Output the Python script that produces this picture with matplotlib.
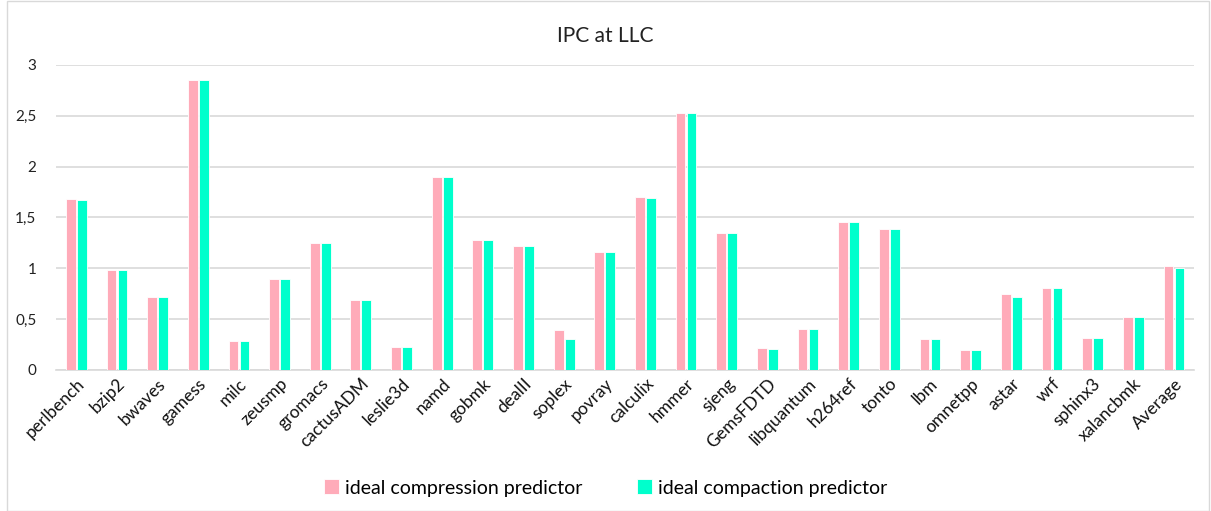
import numpy as np
import matplotlib.pyplot as plt
from matplotlib.patches import Rectangle

plt.rcParams['font.family'] = ['Lato', 'DejaVu Sans']

benchmarks = ['perlbench', 'bzip2', 'bwaves', 'gamess', 'milc', 'zeusmp', 'gromacs',
              'cactusADM', 'leslie3d', 'namd', 'gobmk', 'dealII', 'soplex', 'povray',
              'calculix', 'hmmer', 'sjeng', 'GemsFDTD', 'libquantum', 'h264ref', 'tonto',
              'lbm', 'omnetpp', 'astar', 'wrf', 'sphinx3', 'xalancbmk', 'Average']
compression = [1.68, 0.98, 0.72, 2.85, 0.28, 0.89, 1.25, 0.69, 0.23, 1.90, 1.28, 1.22,
               0.39, 1.16, 1.70, 2.53, 1.35, 0.22, 0.40, 1.455, 1.39, 0.30, 0.20, 0.745,
               0.81, 0.31, 0.52, 1.02]
compaction = [1.67, 0.98, 0.72, 2.85, 0.28, 0.89, 1.25, 0.69, 0.23, 1.90, 1.28, 1.22,
              0.30, 1.16, 1.69, 2.53, 1.35, 0.205, 0.40, 1.455, 1.39, 0.30, 0.20, 0.72,
              0.81, 0.31, 0.52, 1.00]
yticks = [0, 0.5, 1, 1.5, 2, 2.5, 3]
ytick_labels = ['0', '0,5', '1', '1,5', '2', '2,5', '3']

pink = '#ffabb9'
teal = '#00ffcc'

fig = plt.figure(figsize=(12.11, 5.11), dpi=100)
ax = fig.add_axes([0.0462, 0.276, 0.94, 0.597])

x = np.arange(len(benchmarks))
w = 0.24
ax.bar(x - 0.135, compression, w, color=pink, edgecolor='white', linewidth=0.6,
       label='ideal compression predictor', zorder=3)
ax.bar(x + 0.135, compaction, w, color=teal, edgecolor='white', linewidth=0.6,
       label='ideal compaction predictor', zorder=3)

ax.set_xlim(-0.5, len(benchmarks) - 0.5)
ax.set_ylim(0, 3)
ax.set_yticks(yticks)
ax.set_yticklabels(ytick_labels, fontsize=11, color='#222222')
ax.set_xticks(x)
ax.set_xticklabels(benchmarks, rotation=45, ha='right', rotation_mode='anchor',
                   fontsize=12.5, color='#111111')
ax.tick_params(axis='both', length=0)
ax.tick_params(axis='y', pad=14)
ax.tick_params(axis='x', pad=4)
ax.grid(axis='y', color='#d9d9d9', linewidth=1.2, zorder=0)
for s in ['top', 'right', 'left']:
    ax.spines[s].set_visible(False)
ax.spines['bottom'].set_color('#d9d9d9')
ax.spines['bottom'].set_linewidth(1.2)

fig.text(0.5, 0.93, 'IPC at LLC', ha='center', va='center', fontsize=15, color='#222222')

fig.legend(loc='center', bbox_to_anchor=(0.5, 0.045), ncol=2, frameon=False,
           fontsize=14, handlelength=0.8, handleheight=0.8, handletextpad=0.3,
           columnspacing=2.8)

fig.patches.append(Rectangle((0.006, 0.0), 0.992, 0.999, transform=fig.transFigure,
                             fill=False, edgecolor='#d9d9d9', linewidth=1))

fig.savefig('out.png', dpi=100)
